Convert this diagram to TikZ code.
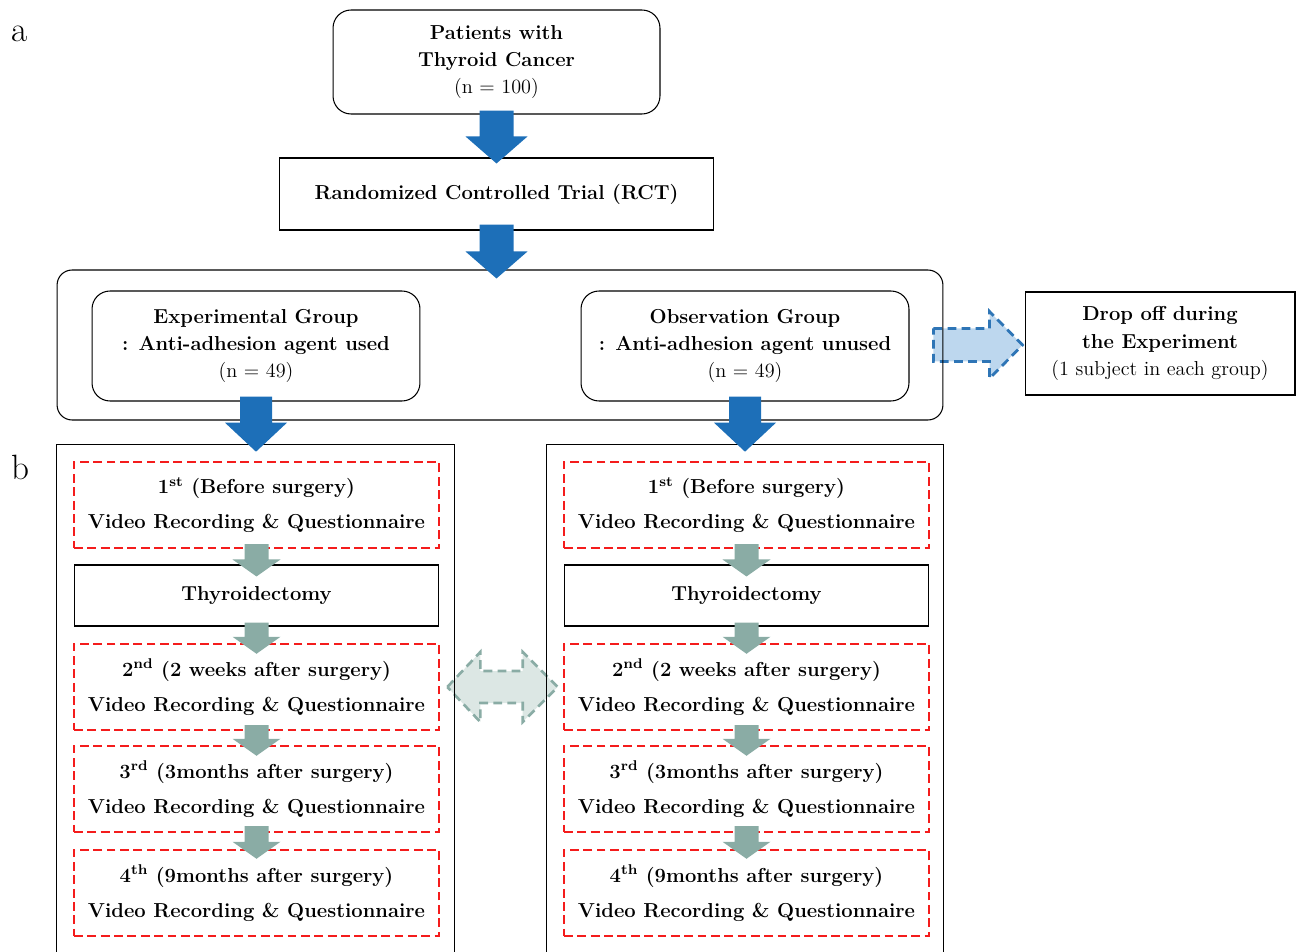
\documentclass[tikz,border=0pt]{standalone}
\usepackage{tikz}
\usetikzlibrary{calc,positioning,backgrounds}
\definecolor{arrowblue}{HTML}{1D6FB8}
\definecolor{dropblue}{HTML}{2E75B6}
\definecolor{droplight}{HTML}{BDD7EE}
\definecolor{sage}{HTML}{8AACA5}
\definecolor{sagelight}{HTML}{DCE7E4}
\definecolor{dashred}{HTML}{F41C1C}

% fat down arrow: style, from, to, top overlap, tip overlap, half shaft, half head, head length
\newcommand{\blockdown}[8]{%
  \path (#2.south |- #3.north) coordinate (bdtip);
  \fill[#1] ($(#2.south)+(-#6,-#4)$) -- ($(#2.south)+(#6,-#4)$)
    -- ($(bdtip)+(#6,#5-#8)$) -- ($(bdtip)+(#7,#5-#8)$) -- ($(bdtip)+(0,#5)$)
    -- ($(bdtip)+(-#7,#5-#8)$) -- ($(bdtip)+(-#6,#5-#8)$) -- cycle;}

\begin{document}
\begin{tikzpicture}[x=0.02cm,y=-0.02cm,
  box/.style={draw,line width=0.6pt,align=center,inner sep=0pt,
    font=\fontsize{11.5}{15.4}\selectfont\bfseries},
  roundbox/.style={box,rounded corners=0.36cm},
  visit/.style={box,draw=dashred,line width=1.4pt,dash pattern=on 5pt off 2.6pt,
    font=\fontsize{11.5}{19.9}\selectfont\bfseries},
  panel/.style={font=\fontsize{20}{20}\selectfont},
  bluearrow/.style={fill=arrowblue},
  sagearrow/.style={fill=sage}]
\useasboundingbox (0,0) rectangle (1298,952);

\node[panel] (pa) at (20,34) {a};
\node[panel] (pb) at (20,467) {b};

\node[roundbox,minimum width=6.54cm,minimum height=2.08cm] (pat) at (496.5,62)
  {Patients with\\Thyroid Cancer\\{\mdseries (n = 100)}};
\node[box,minimum width=8.7cm,minimum height=1.44cm] (rct) at (496.5,194)
  {Randomized Controlled Trial (RCT)};
\node[draw,line width=0.6pt,rounded corners=0.3cm,minimum width=17.72cm,minimum height=3cm] (grp) at (500,345) {};
\node[roundbox,minimum width=6.56cm,minimum height=2.2cm] (exp) at (256,346)
  {Experimental Group\\: Anti-adhesion agent used\\{\mdseries (n = 49)}};
\node[roundbox,minimum width=6.56cm,minimum height=2.2cm] (obs) at (745,346)
  {Observation Group\\: Anti-adhesion agent unused\\{\mdseries (n = 49)}};
\node[box,minimum width=5.4cm,minimum height=2.06cm] (drop) at (1160,343.5)
  {Drop off during\\the Experiment\\{\mdseries (1 subject in each group)}};

\node[minimum width=7.94cm,minimum height=10.14cm] (lb) at (255.5,698.5) {};
\node[minimum width=7.92cm,minimum height=10.14cm] (rb) at (745,698.5) {};
\draw[line width=0.6pt] (lb.south west) |- (lb.north east) -- (lb.south east);
\draw[line width=0.6pt] (rb.south west) |- (rb.north east) -- (rb.south east);

\foreach \c/\cx in {l/256.5,r/746.5}{
  \node[visit,minimum width=7.3cm,minimum height=1.72cm] (\c1) at (\cx,505)
    {1\textsuperscript{st} (Before surgery)\\Video Recording \& Questionnaire};
  \node[box,minimum width=7.28cm,minimum height=1.22cm] (\c th) at (\cx,595.5) {Thyroidectomy};
  \node[visit,minimum width=7.3cm,minimum height=1.72cm] (\c2) at (\cx,687)
    {2\textsuperscript{nd} (2 weeks after surgery)\\Video Recording \& Questionnaire};
  \node[visit,minimum width=7.3cm,minimum height=1.72cm] (\c3) at (\cx,789)
    {3\textsuperscript{rd} (3months after surgery)\\Video Recording \& Questionnaire};
  \node[visit,minimum width=7.3cm,minimum height=1.72cm] (\c4) at (\cx,893)
    {4\textsuperscript{th} (9months after surgery)\\Video Recording \& Questionnaire};
  \blockdown{sagearrow}{\c1}{\c th}{5}{12}{12}{24}{17}
  \blockdown{sagearrow}{\c th}{\c2}{4}{11}{12}{24}{17}
  \blockdown{sagearrow}{\c2}{\c3}{6}{11}{12}{24}{17}
  \blockdown{sagearrow}{\c3}{\c4}{7}{10}{12}{24}{17}
}

\blockdown{bluearrow}{pat}{rct}{4}{6}{17}{31}{27}
\blockdown{bluearrow}{rct}{grp}{6}{9}{17}{31}{27}
\blockdown{bluearrow}{exp}{lb}{5}{7}{16}{31}{29}
\blockdown{bluearrow}{obs}{rb}{5}{7}{16}{31}{29}

\begin{scope}[on background layer]
\draw[draw=dropblue,fill=droplight,line width=1.6pt,dash pattern=on 5pt off 3pt]
  ($(grp.east)+(-10,-16.5)$) -- ($(grp.east -| drop.west)+(-35,-16.5)$)
  -- ($(grp.east -| drop.west)+(-35,-33.5)$) -- ($(grp.east -| drop.west)+(-2,0)$)
  -- ($(grp.east -| drop.west)+(-35,33.5)$) -- ($(grp.east -| drop.west)+(-35,16.5)$)
  -- ($(grp.east)+(-10,16.5)$) -- cycle;
\draw[draw=sage,fill=sagelight,line width=1.5pt,dash pattern=on 5pt off 3pt]
  ($(lb.east |- l2.center)+(-7,0)$) -- ($(lb.east |- l2.center)+(26,-35)$)
  -- ($(lb.east |- l2.center)+(26,-16)$) -- ($(rb.west |- l2.center)+(-24,-16)$)
  -- ($(rb.west |- l2.center)+(-24,-35)$) -- ($(rb.west |- l2.center)+(11,0)$)
  -- ($(rb.west |- l2.center)+(-24,35)$) -- ($(rb.west |- l2.center)+(-24,16)$)
  -- ($(lb.east |- l2.center)+(26,16)$) -- ($(lb.east |- l2.center)+(26,35)$) -- cycle;
\end{scope}
\end{tikzpicture}
\end{document}
